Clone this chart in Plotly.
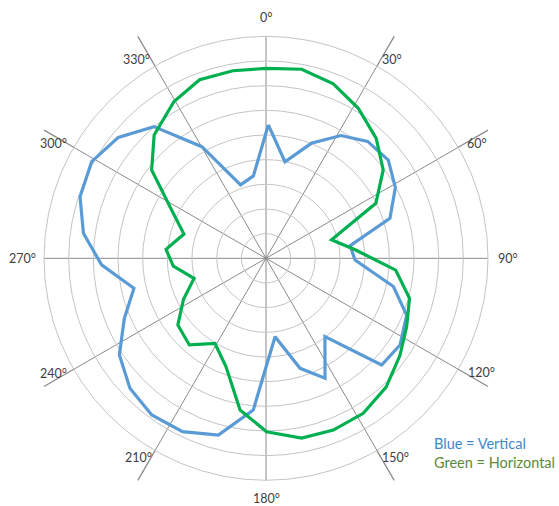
import math
import plotly.graph_objects as go

# ---- data (angle in degrees clockwise from top, radius in ring units) ----
blue_theta = [1.0, 11.1, 21.5, 31.4, 41.0, 51.2, 61.3, 72.1, 81.5, 91.1, 102.5, 112.0,
              122.9, 132.7, 143.0, 153.8, 162.8, 173.4, 184.8, 195.1, 205.7, 216.1,
              226.3, 236.6, 247.0, 257.2, 267.7, 277.8, 288.3, 299.0, 309.3, 319.6,
              330.1, 340.9, 351.3]
blue_r = [5.41, 3.99, 5.01, 5.83, 6.28, 6.36, 5.98, 5.28, 3.45, 3.61, 5.29, 6.15,
          6.47, 6.38, 3.97, 5.42, 4.67, 3.20, 6.17, 7.42, 7.80, 7.86,
          7.63, 7.12, 6.24, 5.49, 6.67, 7.47, 7.94, 8.08, 7.74, 7.01,
          5.22, 3.15, 3.38]

green_theta = [0.0, 10.7, 21.1, 31.6, 42.6, 53.0, 63.4, 74.2, 84.7, 95.2, 105.6, 115.9,
               126.0, 137.0, 147.9, 158.6, 168.8, 179.8, 189.7, 200.3, 211.0, 221.5,
               232.9, 243.5, 254.4, 265.2, 275.1, 286.5, 296.8, 307.7, 317.8, 329.6,
               339.6, 350.0]
green_r = [7.70, 7.80, 7.58, 7.14, 6.60, 5.95, 4.98, 2.76, 3.65, 5.28, 6.04, 6.34,
           6.71, 7.14, 7.42, 7.48, 7.43, 7.03, 6.24, 4.68, 4.02, 4.69,
           4.48, 3.74, 3.03, 3.77, 4.07, 3.47, 4.27, 5.86, 6.75, 7.37,
           7.72, 7.72]

angle_ticks = [0, 30, 60, 90, 120, 150, 180, 210, 240, 270, 300, 330]
angle_labels = ["0°", "30°", "60°", "90°", "120°", "150°", "180°", "210°",
                "240°", "270°", "300°", "330°"]
legend_lines = ["Blue = Vertical", "Green = Horizontal"]
ring_max = 9

# ---- layout geometry (pixels) ----
W, H = 559, 506
CX, CY, R = 266, 258.3, 222
# where each angle label sits (direction in degrees, distance in px from centre)
label_place = [(0, 241), (32.3, 235.5), (61.4, 240), (90, 242), (118, 244), (147, 238),
               (180, 240), (212.6, 237), (241.6, 242), (270, 244), (298.4, 242), (327, 237)]

BLUE = "#5b9bd5"
GREEN = "#00b050"
SPOKE = "#8a8a8a"
RING = "#c4c4c4"
FONT = "Lato"

fig = go.Figure()
fig.add_trace(go.Scatterpolar(
    r=blue_r + blue_r[:1], theta=blue_theta + blue_theta[:1],
    mode="lines", line=dict(color=BLUE, width=3.2), name="Vertical",
    hoverinfo="skip"))
fig.add_trace(go.Scatterpolar(
    r=green_r + green_r[:1], theta=green_theta + green_theta[:1],
    mode="lines", line=dict(color=GREEN, width=3.2), name="Horizontal",
    hoverinfo="skip"))

shapes = []
annotations = []
for a, lab, (pa, pr) in zip(angle_ticks, angle_labels, label_place):
    prad = math.radians(pa)
    lx, ly = CX + pr * math.sin(prad), CY - pr * math.cos(prad)
    annotations.append(dict(text=lab, x=lx / W, y=1 - ly / H, xref="paper", yref="paper",
                            xanchor="center", yanchor="middle", showarrow=False,
                            font=dict(family=FONT, size=12.5, color="#404040")))
    # spokes extend past the outer ring to the bounding square (decoration)
    rad = math.radians(a)
    dev = min(a % 90, 90 - a % 90)
    if dev == 0:
        continue
    L = R / math.cos(math.radians(dev))
    x0p, y0p = CX + R * math.sin(rad), CY - R * math.cos(rad)
    x1p, y1p = CX + L * math.sin(rad), CY - L * math.cos(rad)
    shapes.append(dict(type="line", xref="paper", yref="paper",
                       x0=x0p / W, y0=1 - y0p / H, x1=x1p / W, y1=1 - y1p / H,
                       line=dict(color=SPOKE, width=1.3)))

annotations += [
    dict(text=legend_lines[0], x=432 / W, y=1 - 443.5 / H,
         xref="paper", yref="paper", xanchor="left", yanchor="middle", showarrow=False,
         font=dict(family=FONT, size=14.5, color="#3f87c9")),
    dict(text=legend_lines[1], x=432 / W, y=1 - 462 / H,
         xref="paper", yref="paper", xanchor="left", yanchor="middle", showarrow=False,
         font=dict(family=FONT, size=14.5, color="#5a8a3c")),
]

fig.update_layout(
    width=W, height=H,
    margin=dict(l=0, r=0, t=0, b=0),
    paper_bgcolor="white",
    showlegend=False,
    template="none",
    font=dict(family=FONT, size=13, color="#404040"),
    polar=dict(
        domain=dict(x=[(CX - R) / W, (CX + R) / W],
                    y=[1 - (CY + R) / H, 1 - (CY - R) / H]),
        bgcolor="rgba(0,0,0,0)",
        radialaxis=dict(range=[0, ring_max], dtick=1, showticklabels=False,
                        showline=False, ticks="", gridcolor=RING, gridwidth=1),
        angularaxis=dict(rotation=90, direction="clockwise",
                         tickmode="array", tickvals=angle_ticks,
                         showticklabels=False, ticks="",
                         showline=True, linecolor=RING, linewidth=1,
                         gridcolor=SPOKE, gridwidth=1.3),
    ),
    shapes=shapes,
    annotations=annotations,
)

# remove the browser's default 8px page margin so the figure fills the window exactly
fig.write_html("out.html", config={"displayModeBar": False},
               post_script="document.body.style.margin='0px';")
